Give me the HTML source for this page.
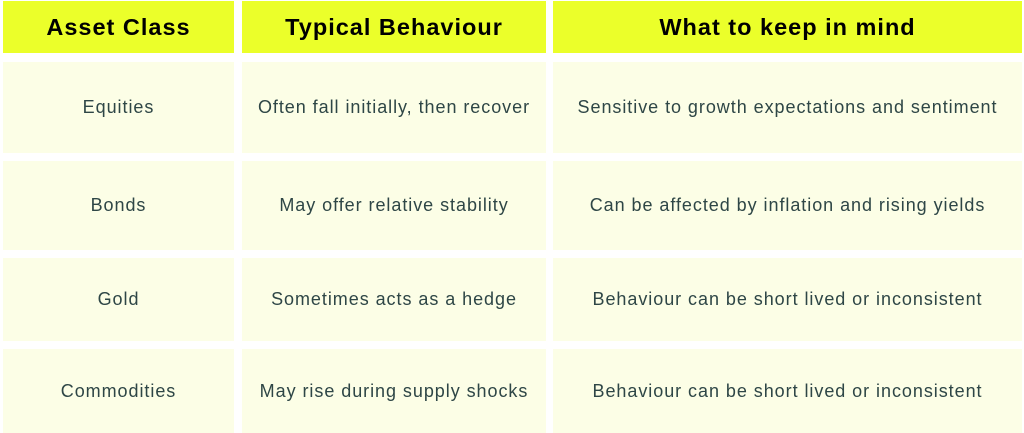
<!DOCTYPE html>
<html><head><style>
html,body{margin:0;padding:0;background:#fff;width:1024px;height:433px;overflow:hidden}
.c{position:absolute;display:flex;align-items:center;justify-content:center;font-family:"Liberation Sans",sans-serif;}
.h{background:#ebff2a;color:#000;font-weight:bold;font-size:23.5px;letter-spacing:1px;}
.b{background:#fcfee6;color:#2e4646;font-size:18px;letter-spacing:0.95px;}
</style></head><body>
<div class="c h" style="left:3px;top:1px;width:231px;height:52px">Asset Class</div>
<div class="c h" style="left:242px;top:1px;width:304px;height:52px">Typical Behaviour</div>
<div class="c h" style="left:553px;top:1px;width:469px;height:52px">What to keep in mind</div>

<div class="c b" style="left:3px;top:62px;width:231px;height:91px">Equities</div>
<div class="c b" style="left:242px;top:62px;width:304px;height:91px">Often fall initially, then recover</div>
<div class="c b" style="left:553px;top:62px;width:469px;height:91px">Sensitive to growth expectations and sentiment</div>

<div class="c b" style="left:3px;top:161px;width:231px;height:89px">Bonds</div>
<div class="c b" style="left:242px;top:161px;width:304px;height:89px">May offer relative stability</div>
<div class="c b" style="left:553px;top:161px;width:469px;height:89px">Can be affected by inflation and rising yields</div>

<div class="c b" style="left:3px;top:258px;width:231px;height:83px">Gold</div>
<div class="c b" style="left:242px;top:258px;width:304px;height:83px">Sometimes acts as a hedge</div>
<div class="c b" style="left:553px;top:258px;width:469px;height:83px">Behaviour can be short lived or inconsistent</div>

<div class="c b" style="left:3px;top:349px;width:231px;height:84px">Commodities</div>
<div class="c b" style="left:242px;top:349px;width:304px;height:84px">May rise during supply shocks</div>
<div class="c b" style="left:553px;top:349px;width:469px;height:84px">Behaviour can be short lived or inconsistent</div>
</body></html>
